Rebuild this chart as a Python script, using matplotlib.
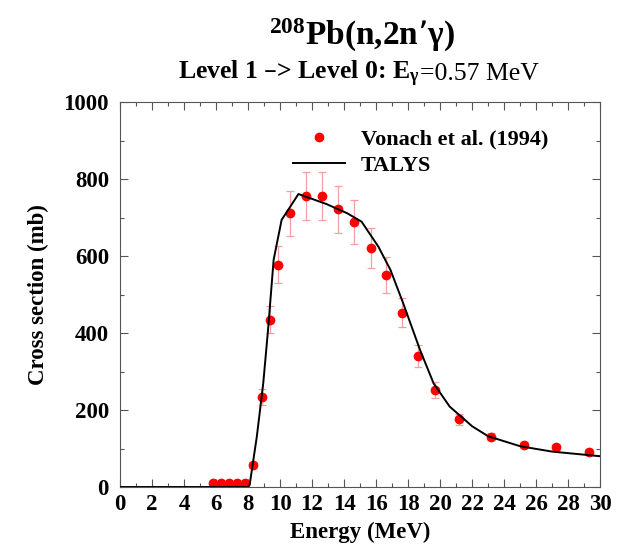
import matplotlib
matplotlib.use('Agg')
import matplotlib.pyplot as plt
from matplotlib.ticker import MultipleLocator

plt.rcParams['font.family'] = ['Liberation Serif', 'DejaVu Serif']
plt.rcParams['mathtext.default'] = 'regular'

# Vonach et al. (1994)
exp_e = [5.8, 6.3, 6.8, 7.3, 7.8, 8.3, 8.85, 9.35, 9.85, 10.6, 11.65, 12.65,
         13.65, 14.65, 15.7, 16.65, 17.65, 18.65, 19.7, 21.2, 23.2, 25.25,
         27.25, 29.3]
exp_xs = [10, 11, 11, 11, 11, 57, 234, 435, 577, 711, 756, 756,
          721, 689, 620, 551, 453, 341, 252, 176, 131, 109,
          103, 92]
exp_err = [2, 2, 2, 2, 2, 8, 20, 35, 48, 58, 62, 62,
           60, 57, 52, 46, 38, 28, 20, 14, 10, 8,
           8, 7]

# TALYS
talys_e = [0, 2, 4, 6, 8.0, 8.1, 8.55, 8.95, 9.25, 9.6, 10.1, 10.7, 11.15,
           12.9, 14.2, 15.1, 16.15, 16.9, 17.7, 18.75, 19.6, 20.6, 22.0,
           23.0, 25.0, 27.0, 30.0]
talys_xs = [0, 0, 0, 0, 0, 5, 131, 269, 408, 590, 694, 732, 761,
            735, 711, 689, 624, 564, 477, 356, 269, 209, 158,
            132, 106, 92, 80]

fig = plt.figure(figsize=(6.29, 5.49), dpi=100)
ax = fig.add_axes([0.1908, 0.1129, 0.7632, 0.7013])

ax.errorbar(exp_e, exp_xs, yerr=exp_err, fmt='none', ecolor='#f4a0a0',
            elinewidth=0.9, capsize=3, capthick=0.9, zorder=2)
ax.plot(exp_e, exp_xs, 'o', color='red', markersize=6, zorder=3,
        label='Vonach et al. (1994)')
ax.plot(talys_e, talys_xs, '-', color='black', lw=1.4, zorder=4, label='TALYS')

ax.set_xlim(0, 30)
ax.set_ylim(0, 1000)
ax.xaxis.set_major_locator(MultipleLocator(2))
ax.xaxis.set_minor_locator(MultipleLocator(1))
ax.yaxis.set_major_locator(MultipleLocator(200))
ax.yaxis.set_minor_locator(MultipleLocator(100))
ax.tick_params(which='both', direction='in', top=True, right=True,
               color='#555555', width=0.8)
ax.tick_params(which='major', length=6, labelsize=16.5)
ax.tick_params(axis='y', which='major', pad=8)
ax.tick_params(axis='x', which='major', pad=5)
ax.tick_params(which='minor', length=3)
for lab in ax.get_xticklabels() + ax.get_yticklabels():
    lab.set_fontweight('bold')
for s in ax.spines.values():
    s.set_color('#555555')
    s.set_linewidth(0.8)

ax.set_xlabel('Energy (MeV)', fontsize=16.5, fontweight='bold', labelpad=5)
ax.set_ylabel('Cross section (mb)', fontsize=16.5, fontweight='bold', labelpad=10)

fig.text(0.575, 0.918, r'$^{208}$Pb(n,2n’γ)', ha='center',
         va='baseline', fontsize=24, fontweight='bold')
fig.text(0.668, 0.855, r'Level 1 –> Level 0: E$_{\gamma}$', ha='right',
         va='baseline', fontsize=18.5, fontweight='bold')
fig.text(0.668, 0.855, '=0.57 MeV', ha='left', va='baseline', fontsize=18.5)

leg = ax.legend(loc='upper left', bbox_to_anchor=(0.36, 0.93), frameon=False,
                borderpad=0, borderaxespad=0, handlelength=2.35,
                handletextpad=0.7, labelspacing=0.25,
                prop={'weight': 'bold', 'size': 16})

fig.savefig('out.png', dpi=100)
